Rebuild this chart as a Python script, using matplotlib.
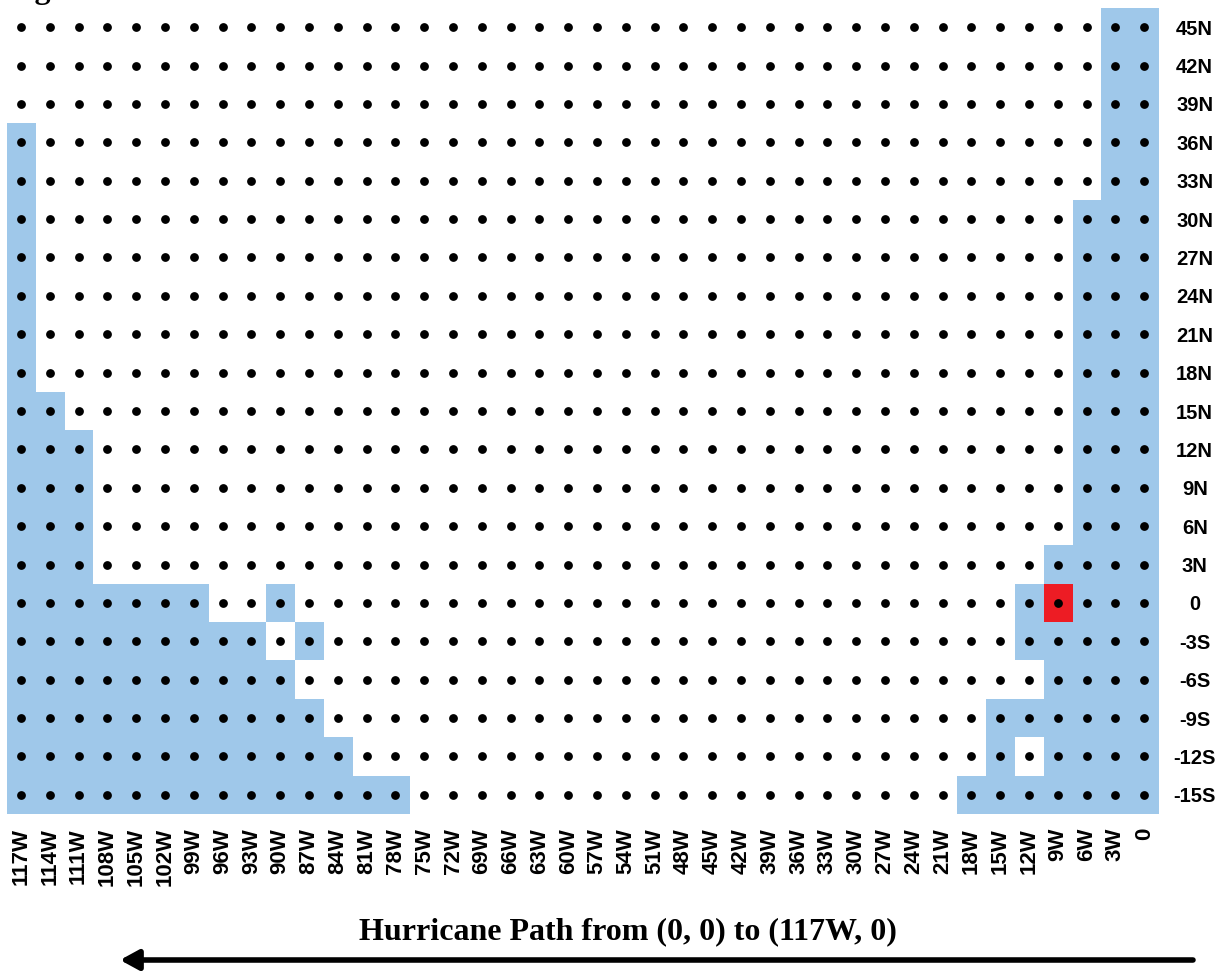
import numpy as np
import matplotlib
matplotlib.use("Agg")
import matplotlib.pyplot as plt
from matplotlib.colors import ListedColormap

# -------------------------
# Grid data
# -------------------------
lon_labels = ["117W", "114W", "111W", "108W", "105W", "102W", "99W", "96W", "93W", "90W",
              "87W", "84W", "81W", "78W", "75W", "72W", "69W", "66W", "63W", "60W",
              "57W", "54W", "51W", "48W", "45W", "42W", "39W", "36W", "33W", "30W",
              "27W", "24W", "21W", "18W", "15W", "12W", "9W", "6W", "3W", "0"]
lat_labels = ["45N", "42N", "39N", "36N", "33N", "30N", "27N", "24N", "21N", "18N",
              "15N", "12N", "9N", "6N", "3N", "0", "-3S", "-6S", "-9S", "-12S", "-15S"]

# one string per latitude row, one char per longitude column
# '.' = open water, '#' = shaded (land), 'R' = hurricane start cell
cell_rows = [
    "......................................##",
    "......................................##",
    "......................................##",
    "#.....................................##",
    "#.....................................##",
    "#....................................###",
    "#....................................###",
    "#....................................###",
    "#....................................###",
    "#....................................###",
    "##...................................###",
    "###..................................###",
    "###..................................###",
    "###..................................###",
    "###.................................####",
    "#######..#.........................#R###",
    "#########.#........................#####",
    "##########..........................####",
    "###########.......................######",
    "############......................#.####",
    "##############...................#######",
]

title_text = "Hurricane Path from (0, 0) to (117W, 0)"

# -------------------------
# Build cell matrix
# -------------------------
code = {".": 0, "#": 1, "R": 2}
cells = np.array([[code[c] for c in row] for row in cell_rows])
n_rows, n_cols = cells.shape

cmap = ListedColormap(["#FFFFFF", "#9FC8EA", "#ED1C24"])

fig = plt.figure(figsize=(12.25, 9.71), dpi=100)
W, H = 1225, 971
left, right, top, bottom = 6.6, 1158.6, 8.0, 814
ax = fig.add_axes([left / W, 1 - bottom / H, (right - left) / W, (bottom - top) / H])

ax.imshow(cells, cmap=cmap, vmin=0, vmax=2, aspect="auto", interpolation="nearest",
          extent=(-0.5, n_cols - 0.5, n_rows - 0.5, -0.5))

xx, yy = np.meshgrid(np.arange(n_cols), np.arange(n_rows))
ax.scatter(xx.ravel(), yy.ravel(), s=40, color="black", linewidths=0, zorder=3)

ax.set_xlim(-0.5, n_cols - 0.5)
ax.set_ylim(n_rows - 0.5, -0.5)

for s in ax.spines.values():
    s.set_visible(False)

ax.set_xticks(np.arange(n_cols))
ax.set_xticklabels(lon_labels, rotation=90, fontsize=16, fontweight="bold",
                   family="Liberation Sans", va="top", ha="center")
ax.set_yticks(np.arange(n_rows))
ax.yaxis.tick_right()
ax.set_yticklabels(lat_labels, fontsize=14.5, fontweight="bold",
                   family="Liberation Sans", ha="center")
ax.tick_params(axis="x", length=0, pad=10)
ax.tick_params(axis="y", length=0, pad=26)

# heading cut off at the very top, as in the source image
fig.text(6 / W, 1 + 2 / H, "Fig", fontsize=23, fontweight="bold",
         family="Liberation Serif", ha="left", va="baseline")

fig.text(628 / W, 1 - 939 / H, title_text, fontsize=23, fontweight="bold",
         family="Liberation Serif", ha="center", va="baseline")

ay = 1 - 960 / H
fig.add_artist(matplotlib.patches.FancyArrowPatch(
    (1193 / W, ay), (120 / W, ay), transform=fig.transFigure,
    arrowstyle="-|>,head_length=0.55,head_width=0.3", mutation_scale=20,
    lw=4, color="black", shrinkA=0, shrinkB=0))

plt.savefig("out.png", dpi=100)
plt.close()
